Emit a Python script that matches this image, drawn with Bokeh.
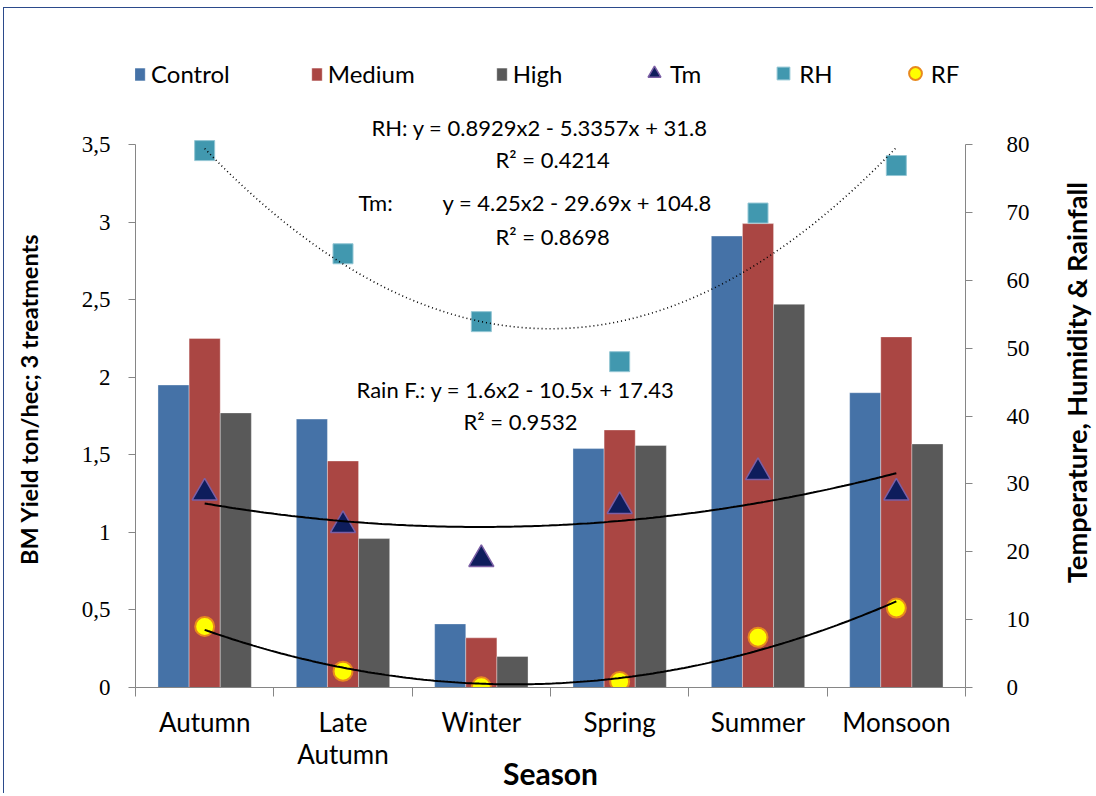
import numpy as np
from bokeh.plotting import figure
from bokeh.layouts import row
from bokeh.models import (ColumnDataSource, FactorRange, Range1d, LinearAxis, FixedTicker,
                          Legend, LegendItem, Label)
from bokeh.transform import dodge
from bokeh.embed import file_html
from bokeh.resources import INLINE

# ---------------- data ----------------
seasons = ["Autumn", "Late Autumn", "Winter", "Spring", "Summer", "Monsoon"]
season_labels = ["Autumn", "Late\nAutumn", "Winter", "Spring", "Summer", "Monsoon"]
control = [1.95, 1.73, 0.41, 1.54, 2.91, 1.90]
medium = [2.25, 1.46, 0.32, 1.66, 2.99, 2.26]
high = [1.77, 0.96, 0.20, 1.56, 2.47, 1.57]
tm = [28.7, 23.9, 18.9, 26.7, 31.7, 28.7]
rh = [79.1, 63.9, 53.9, 48.0, 69.9, 76.9]
rf = [9.0, 2.4, 0.1, 0.9, 7.4, 11.7]
left_max = 3.5
right_max = 80
left_ticks = [0, 0.5, 1, 1.5, 2, 2.5, 3, 3.5]
right_ticks = [0, 10, 20, 30, 40, 50, 60, 70, 80]
eq_texts = ["RH: y = 0.8929x2 - 5.3357x + 31.8", "R\u00b2 = 0.4214",
            "Tm:", "y = 4.25x2 - 29.69x + 104.8", "R\u00b2 = 0.8698",
            "Rain F.: y = 1.6x2 - 10.5x + 17.43", "R\u00b2 = 0.9532"]
left_title = "BM Yield ton/hec; 3 treatments"
right_title = "Temperature,  Humidity & Rainfall"
x_title = "Season"

FONT = "Lato"
AXIS_GREY = "#868686"
BORDER = "1px solid #2B4A8B"
H = 786

# frame is extended above the axes' top (axis lines bounded) so legend and texts fit inside
FRAME_H, AXIS_H = 648, 543
ext = FRAME_H / AXIS_H

src = ColumnDataSource(dict(season=seasons, control=control, medium=medium, high=high,
                            tm=tm, rh=rh, rf=rf))

p = figure(width=1004, height=H, x_range=FactorRange(*seasons),
           y_range=Range1d(0, left_max * ext),
           output_backend="svg", toolbar_location=None, x_axis_location=None,
           min_border_left=86, min_border_right=88, min_border_top=31, min_border_bottom=107)
p.margin = (7, 0, 0, 0)
p.styles = {"border-top": BORDER}
p.outline_line_color = None
p.grid.visible = False
p.background_fill_color = "white"

p.extra_y_ranges = {"right": Range1d(0, right_max * ext)}

# ---------------- bars ----------------
bw = 0.225
r_c = p.vbar(x=dodge("season", -bw, range=p.x_range), top="control", width=bw, source=src,
             fill_color="#4572A7", line_color="white", line_alpha=0.35)
r_m = p.vbar(x=dodge("season", 0, range=p.x_range), top="medium", width=bw, source=src,
             fill_color="#AA4643", line_color="white", line_alpha=0.35)
r_h = p.vbar(x=dodge("season", bw, range=p.x_range), top="high", width=bw, source=src,
             fill_color="#595959", line_color="white", line_alpha=0.35)

# ---------------- markers ----------------
r_tm = p.scatter(x="season", y="tm", source=src, y_range_name="right", marker="triangle",
                 size=25, fill_color="#0E1D5C", line_color="#7B5FA5", line_width=1.5)
r_rh = p.scatter(x="season", y="rh", source=src, y_range_name="right", marker="square",
                 size=20, fill_color="#4198AF", line_color="#93C6D4", line_width=1)
r_rf = p.scatter(x="season", y="rf", source=src, y_range_name="right", marker="circle",
                 size=19, fill_color="#FFFF00", line_color="#E8891E", line_width=2)

# ---------------- polynomial trend lines (fitted to the series) ----------------
t = np.arange(1, len(seasons) + 1)
tt = np.linspace(1, len(seasons), 200)
def trend(vals):
    c = np.polyfit(t, vals, 2)
    return np.polyval(c, tt)

p.line(tt - 0.5, trend(rh), y_range_name="right", line_color="black", line_width=1.6,
       line_dash="1 3")
p.line(tt - 0.5, trend(tm), y_range_name="right", line_color="black", line_width=2)
p.line(tt - 0.5, trend(rf), y_range_name="right", line_color="black", line_width=2)

# ---------------- axes ----------------
ya = p.yaxis[0]
ya.bounds = (0, left_max)
ya.ticker = FixedTicker(ticks=left_ticks)
ya.major_label_overrides = {tk: f"{tk:g}".replace(".", ",") for tk in left_ticks}
ya.axis_line_color = AXIS_GREY
ya.major_tick_line_color = AXIS_GREY
ya.major_tick_in = 0
ya.major_tick_out = 7
ya.minor_tick_line_color = None
ya.major_label_text_font = "Liberation Serif"
ya.major_label_text_font_size = "23px"
ya.major_label_text_color = "black"
ya.major_label_standoff = 18

ra = LinearAxis(y_range_name="right", ticker=FixedTicker(ticks=right_ticks), bounds=(0, right_max))
ra.axis_line_color = AXIS_GREY
ra.major_tick_line_color = AXIS_GREY
ra.major_tick_in = 0
ra.major_tick_out = 7
ra.minor_tick_line_color = None
ra.major_label_text_font = "Liberation Serif"
ra.major_label_text_font_size = "23px"
ra.major_label_text_color = "black"
ra.major_label_standoff = 34
p.add_layout(ra, "right")

xa = LinearAxis(ticker=FixedTicker(ticks=[i + 0.5 for i in range(len(seasons))],
                                   minor_ticks=list(range(len(seasons) + 1))))
xa.major_label_overrides = {i + 0.5: lab for i, lab in enumerate(season_labels)}
xa.axis_line_color = AXIS_GREY
xa.major_tick_line_color = None
xa.minor_tick_line_color = AXIS_GREY
xa.minor_tick_in = 0
xa.minor_tick_out = 9
xa.major_label_text_font = FONT
xa.major_label_text_font_size = "26px"
xa.major_label_text_line_height = 1.0
xa.major_label_text_color = "black"
xa.major_label_standoff = 9
xa.axis_label = x_title
xa.axis_label_text_font = FONT
xa.axis_label_text_font_style = "bold"
xa.axis_label_text_font_size = "30px"
xa.axis_label_text_color = "black"
xa.axis_label_standoff = -18
p.add_layout(xa, "below")

# ---------------- trendline equations ----------------
eq_pos = [(1.706, 82.5), (2.603, 77.8), (1.612, 71.5), (2.219, 71.5), (2.603, 66.4),
          (1.598, 43.9), (2.371, 39.2)]
for txt, (ex, ey) in zip(eq_texts, eq_pos):
    p.add_layout(Label(x=ex, y=ey, y_range_name="right", text=txt, text_align="left",
                       text_baseline="middle", text_font=FONT, text_font_size="22px",
                       text_color="black"))

# ---------------- legends ----------------
leg_common = dict(orientation="horizontal", padding=0, margin=0, label_text_font=FONT,
                  label_text_font_size="24px", label_text_color="black",
                  background_fill_alpha=0, border_line_color=None)
legend1 = Legend(items=[LegendItem(label="Control", renderers=[r_c]),
                        LegendItem(label="Medium", renderers=[r_m]),
                        LegendItem(label="High", renderers=[r_h])],
                 location=(-2, 599), spacing=80, glyph_width=13, glyph_height=16,
                 label_standoff=5, **leg_common)
legend2 = Legend(items=[LegendItem(label="Tm", renderers=[r_tm]),
                        LegendItem(label="RH", renderers=[r_rh]),
                        LegendItem(label="RF", renderers=[r_rf])],
                 location=(503, 598), spacing=66, glyph_width=32, glyph_height=32,
                 label_standoff=0, **leg_common)
p.add_layout(legend1, "center")
p.add_layout(legend2, "center")

# ---------------- side title strips (texts read bottom to top) ----------------
def title_strip(width, text, fx, fy, size, margin, styles):
    s = figure(width=width, height=H, x_range=Range1d(0, 1), y_range=Range1d(0, 1),
               output_backend="svg", toolbar_location=None, x_axis_location=None,
               y_axis_location=None, min_border=0)
    s.margin = margin
    s.styles = styles
    s.outline_line_color = None
    s.grid.visible = False
    s.add_layout(Label(x=fx, y=fy, text=text, angle=np.pi / 2, text_align="left",
                       text_baseline="middle", text_font=FONT, text_font_style="bold",
                       text_font_size=size, text_color="black"))
    return s

p0 = title_strip(46, left_title, 0.543, 0.189, "23.5px", (7, 0, 0, 3),
                 {"border-left": BORDER, "border-top": BORDER})
p2 = title_strip(40, right_title, 0.575, 0.161, "27.2px", (7, 0, 0, 0),
                 {"border-top": BORDER})

layout = row(p0, p, p2)
open("out.html", "w").write(file_html(layout, INLINE))
